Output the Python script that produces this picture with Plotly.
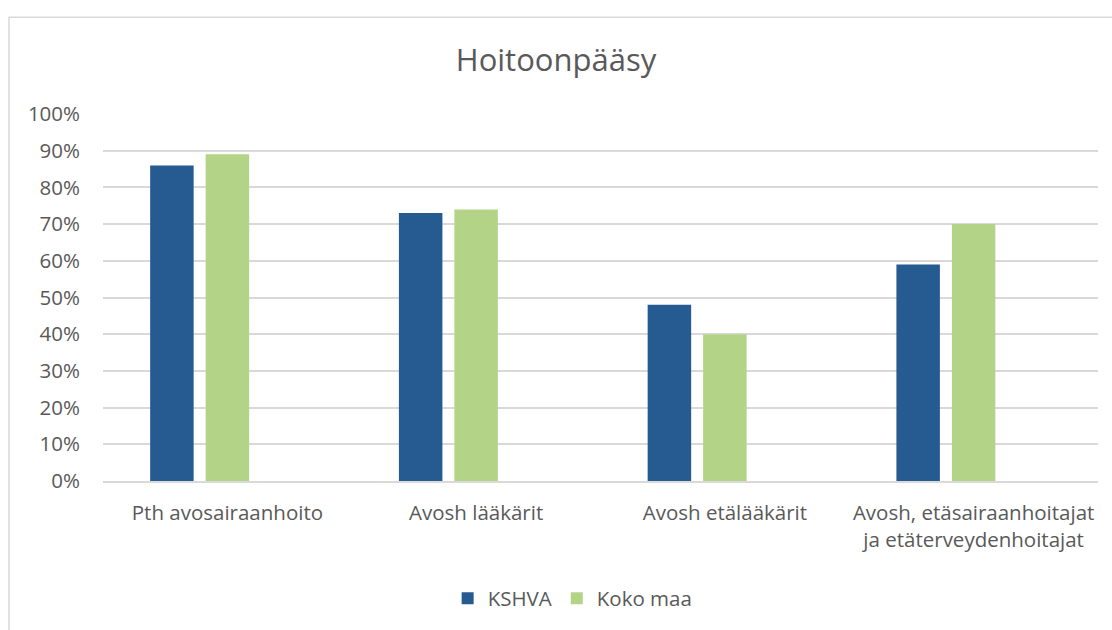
import plotly.graph_objects as go

categories = ["Pth avosairaanhoito", "Avosh lääkärit", "Avosh etälääkärit",
              "Avosh, etäsairaanhoitajat<br>ja etäterveydenhoitajat"]
kshva = [86, 73, 48, 59]
koko_maa = [89, 74, 40, 70]
empty_series = [None, None, None, None]
y_ticks = list(range(0, 101, 10))
y_tick_labels = [f"{v}%" for v in y_ticks]

TXT = "#595959"
FONT = "Open Sans"

fig = go.Figure()
fig.add_trace(go.Bar(x=categories, y=kshva, name="KSHVA", marker_color="#265B92",
                     marker_line_width=0))
fig.add_trace(go.Bar(x=categories, y=koko_maa, name="Koko maa", marker_color="#B3D486",
                     marker_line_width=0))
fig.add_trace(go.Bar(x=categories, y=empty_series, name="", showlegend=False,
                     hoverinfo="skip"))

fig.update_layout(
    width=1112, height=630,
    margin=dict(l=103, r=14, t=114, b=140),
    paper_bgcolor="white", plot_bgcolor="white",
    barmode="group", bargap=0.331, bargroupgap=0.216,
    font=dict(family=FONT, size=20.5, color=TXT),
    title=dict(text="Hoitoonpääsy", x=0.5, xanchor="center", y=1 - 60 / 630,
               yanchor="middle", font=dict(family=FONT, size=31, color=TXT)),
    legend=dict(orientation="h", x=0.472, xanchor="center", y=-0.32, yanchor="middle",
                font=dict(family=FONT, size=20.5, color=TXT), itemwidth=30),
    showlegend=True,
)
fig.update_yaxes(range=[0, 100], tickmode="array", tickvals=y_ticks, ticktext=y_tick_labels,
                 showgrid=True, gridcolor="#D9D9D9", gridwidth=1.5,
                 zeroline=False, showline=False, ticks="", ticklabelstandoff=22,
                 tickfont=dict(family=FONT, size=20.5, color=TXT))
fig.update_xaxes(showline=True, linecolor="#D9D9D9", linewidth=1.5, ticks="",
                 ticklabelstandoff=13, tickfont=dict(family=FONT, size=20.5, color=TXT))

# chart area border (left and top edges visible)
fig.add_shape(type="rect", xref="paper", yref="paper",
              x0=(9 - 103) / 995, x1=(1125 - 103) / 995,
              y0=(490 - 650) / 376, y1=(490 - 15) / 376,
              line=dict(color="#D9D9D9", width=1.5), fillcolor="rgba(0,0,0,0)",
              layer="below")

fig.write_html("out.html", config={"displayModeBar": False},
               post_script="document.body.style.margin='0';document.body.style.overflow='hidden';")
